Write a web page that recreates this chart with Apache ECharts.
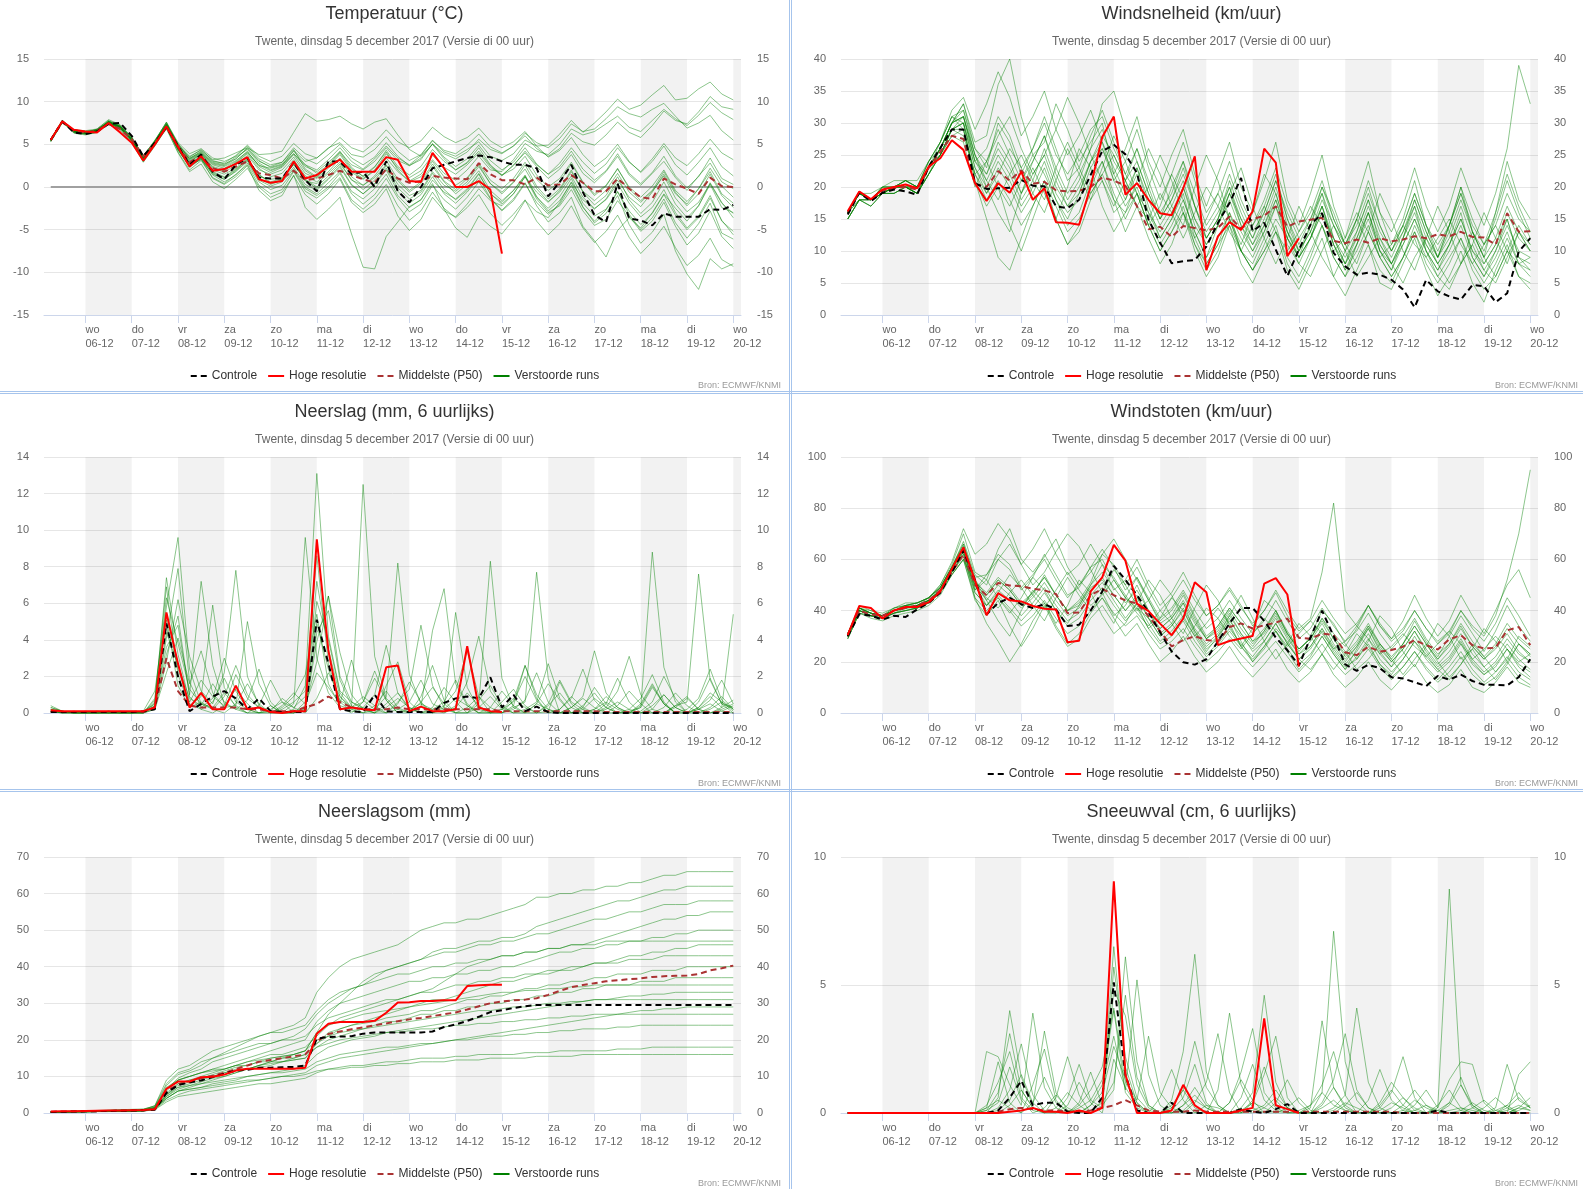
<!DOCTYPE html>
<html><head><meta charset="utf-8">
<script src="https://cdn.jsdelivr.net/npm/echarts@6/dist/echarts.min.js"></script>
<style>
html,body{margin:0;padding:0;background:#fff;overflow:hidden;width:1583px;height:1189px;position:relative}
.c{position:absolute;width:789px;height:390px}
.sep{position:absolute;background:#a6c4ec}
</style></head><body>
<div id="c0" class="c" style="left:0;top:0"></div>
<div id="c1" class="c" style="left:797px;top:0"></div>
<div id="c2" class="c" style="left:0;top:398px"></div>
<div id="c3" class="c" style="left:797px;top:398px"></div>
<div id="c4" class="c" style="left:0;top:798px"></div>
<div id="c5" class="c" style="left:797px;top:798px"></div>
<div class="sep" style="left:789px;top:0;width:1px;height:1189px"></div>
<div class="sep" style="left:791px;top:0;width:1px;height:1189px"></div>
<div class="sep" style="left:0;top:391px;width:1583px;height:1px"></div>
<div class="sep" style="left:0;top:393px;width:1583px;height:1px"></div>
<div class="sep" style="left:0;top:789px;width:1583px;height:1px"></div>
<div class="sep" style="left:0;top:791px;width:1583px;height:1px"></div>
<script>
// ---------- time axis data (hours after 5 Dec 2017 00:00) ----------
const stepHours = [6,12,18,24,30,36,42,48,54,60,66,72,78,84,90,96,102,108,114,120,126,132,138,144,150,156,162,168,174,180,186,192,198,204,210,216,222,228,234,240,246,252,258,264,270,276,282,288,294,300,306,312,318,324,330,336,342,348,354,360];
const tickHours = [24,48,72,96,120,144,168,192,216,240,264,288,312,336,360];
const tickLabels = ['wo\n06-12','do\n07-12','vr\n08-12','za\n09-12','zo\n10-12','ma\n11-12','di\n12-12','wo\n13-12','do\n14-12','vr\n15-12','za\n16-12','zo\n17-12','ma\n18-12','di\n19-12','wo\n20-12'];
const shadedDays = [[24,48],[72,96],[120,144],[168,192],[216,240],[264,288],[312,336],[360,384]];
const X_MIN = 2.5, X_MAX = 364;
const subtitleText = 'Twente, dinsdag 5 december 2017 (Versie di 00 uur)';
const sourceText = 'Bron: ECMWF/KNMI';
const legendNames = ['Controle','Hoge resolutie','Middelste (P50)','Verstoorde runs'];

// ---------- Temperatuur ----------
const tempControl = [5.5,7.7,6.4,6.2,6.5,7.4,7.5,6.0,3.6,5.2,7.0,4.8,
 2.6,3.8,1.8,0.9,2.6,3.4,1.1,1.0,1.0,2.9,0.8,-0.5,
 3.0,3.0,1.5,1.8,0.0,3.0,-0.5,-1.8,0.0,2.2,2.6,3.0,
 3.4,3.7,3.5,3.0,2.6,2.6,2.2,-1.1,0.6,2.6,-0.6,-3.3,
 -4.1,0.4,-3.7,-3.9,-4.5,-3.1,-3.5,-3.5,-3.5,-2.6,-2.7,-2.1];
const tempHires = [5.5,7.7,6.7,6.5,6.4,7.5,6.4,5.2,3.1,5.0,7.1,4.7,
 2.4,3.6,1.9,2.1,2.7,3.5,0.9,0.5,0.7,3.0,1.0,1.4,
 2.4,3.2,1.8,1.8,1.8,3.5,3.2,0.7,0.6,4.0,2.2,0.0,
 0.0,0.7,-0.3,-7.8];
const tempMedian = [5.5,7.6,6.6,6.4,6.6,7.4,6.8,5.6,3.6,5.1,7.0,4.8,
 2.9,3.6,2.2,1.8,2.4,3.0,1.6,1.4,1.0,1.9,0.8,1.0,
 1.4,1.9,1.4,0.9,0.5,2.1,1.0,0.5,0.7,1.3,1.1,1.0,
 0.9,2.8,1.5,0.8,0.8,0.3,1.1,0.2,0.3,1.4,0.5,-0.5,
 -0.5,1.0,-0.2,-1.2,-1.4,1.0,0.3,-0.2,-0.8,1.1,0.1,0.0];
const tempRuns = [
 [5.3,7.6,6.6,6.3,6.8,7.8,7.2,5.4,3.0,5.4,7.6,4.9, 3.4,4.1,2.9,2.6,3.5,4.4,2.8,2.0,2.5,4.3,3.0,3.4, 4.6,5.2,3.8,3.5,4.4,5.9,4.2,3.1,3.8,5.5,4.1,3.6, 4.4,5.3,3.6,3.1,3.9,5.5,4.8,4.9,6.2,7.8,6.4,7.5, 8.8,10.3,9.1,9.6,10.8,11.9,10.2,10.4,11.5,12.3,10.9,10.2],
 [5.6,7.8,6.3,6.1,6.4,7.3,6.7,5.2,2.9,4.8,6.9,4.1, 2.0,3.1,1.1,0.4,1.5,2.6,0.2,-0.8,-0.3,1.8,-0.5,-1.3, -0.2,1.1,-1.5,-2.6,-1.4,0.3,-2.2,-3.9,-2.8,-0.6,-2.5,-3.6, -2.4,-0.9,-3.1,-4.5,-3.2,-1.5,-4.0,-5.6,-4.3,-2.2,-4.8,-6.5, -5.2,-3.3,-5.9,-7.8,-6.4,-4.6,-7.1,-9.2,-8.0,-6.0,-8.5,-9.3],
 [5.4,7.7,6.5,6.4,6.5,7.5,7.1,5.7,3.4,5.1,7.0,4.4, 2.3,3.3,1.0,0.3,1.2,2.5,-0.4,-1.6,-1.0,1.4,-2.4,-3.8, -2.6,-1.2,-5.5,-9.4,-9.6,-5.8,-4.1,-2.3,-1.5,0.8,-0.6,-1.4, -0.2,1.6,-0.8,-1.8,-0.4,1.3,-1.2,-2.5,-1.1,1.0,-1.9,-3.4, -2.6,-0.5,-3.2,-5.0,-3.6,-1.4,-4.2,-6.0,-4.3,-1.9,-5.4,-6.1],
 [5.5,7.6,6.7,6.5,6.7,7.6,6.9,5.5,3.5,5.3,7.4,5.0, 3.6,4.3,3.2,3.4,4.0,4.6,3.8,3.9,4.2,6.4,8.6,7.7, 7.9,8.3,7.4,6.8,7.6,8.0,6.1,4.4,3.6,5.0,3.3,2.0, 2.8,4.2,2.5,1.3,2.6,4.0,2.4,1.0,2.1,3.8,1.6,0.5, 1.8,3.6,1.4,0.2,1.6,3.0,1.1,-0.4,1.3,2.8,0.6,-0.2],
 [5.5,7.7,6.4,6.3,6.6,7.6,7.1,5.6,3.2,5.0,7.2,4.6, 2.8,3.6,2.0,1.5,2.2,3.4,1.2,0.9,1.1,2.8,0.7,0.4, 1.6,2.9,0.8,0.2,1.1,2.6,0.3,-1.0,-0.4,1.8,0.2,-0.5, 0.6,2.4,0.4,-0.8,0.5,2.6,0.1,-1.4,-0.2,2.0,-0.6,-2.1, -1.0,1.2,-1.5,-3.1,-1.8,0.6,-2.0,-3.6,-2.2,0.3,-2.4,-3.0],
 [5.6,7.7,6.6,6.4,6.7,7.7,7.2,5.9,3.6,5.5,7.5,5.1, 3.2,4.0,2.7,2.4,3.1,4.1,2.5,2.2,2.6,3.9,2.4,1.8, 2.9,4.1,2.6,2.0,3.0,4.6,3.1,2.5,3.4,5.0,3.9,3.3, 4.1,5.6,4.4,3.9,4.8,6.3,5.2,4.6,5.7,7.4,6.5,6.8, 8.0,9.4,8.6,8.2,9.1,9.8,8.3,6.9,7.5,8.4,6.6,5.5],
 [5.4,7.6,6.5,6.2,6.5,7.4,6.9,5.4,3.1,4.9,7.0,4.3, 2.5,3.2,1.6,0.9,1.8,3.0,0.8,0.1,0.6,2.1,0.0,-0.8, 0.5,1.8,-0.5,-1.4,-0.2,1.5,-1.0,-2.4,-1.5,0.4,-2.6,-4.8, -5.9,-3.4,-4.6,-5.5,-3.8,-1.6,-2.9,-3.6,-1.8,0.6,-1.5,-2.6, -1.4,0.8,-1.2,-2.3,-0.6,1.5,-0.8,-2.0,-0.2,2.2,0.1,-1.2],
 [5.6,7.8,6.7,6.6,6.8,7.9,7.3,5.8,3.7,5.4,7.6,5.2, 3.9,4.5,3.4,3.0,3.6,4.8,3.3,2.6,2.9,4.4,2.1,1.2, 2.4,3.8,1.9,1.0,2.0,3.9,2.2,1.1,1.9,3.7,2.3,1.5, 2.6,4.0,2.3,1.4,2.5,4.2,2.6,1.5,2.8,4.6,2.9,1.6, 2.7,4.6,2.9,1.8,3.3,5.1,3.4,2.5,3.9,5.6,4.0,3.2],
 [5.5,7.7,6.4,6.2,6.4,7.5,7.0,5.5,3.3,5.1,7.1,4.5, 2.7,3.5,1.8,1.2,2.1,3.2,1.4,0.6,1.0,2.6,0.9,0.0, 1.3,2.7,0.9,-0.3,0.8,2.5,0.7,-0.6,0.4,2.4,0.6,-0.8, 0.3,1.9,-0.4,-1.6,-0.4,1.4,-1.1,-2.8,-1.6,0.5,-2.3,-4.2, -3.1,-1.0,-4.4,-6.6,-5.3,-3.2,-7.5,-10.2,-12.0,-8.4,-9.6,-9.0],
 [5.3,7.5,6.5,6.3,6.5,7.6,7.0,5.6,3.4,5.2,7.3,4.8, 3.0,3.8,2.3,1.7,2.6,3.7,2.0,1.5,2.0,3.5,1.6,1.0, 2.2,3.4,1.7,0.9,1.9,3.4,1.8,0.7,1.5,3.2,1.6,0.8, 2.0,3.6,2.0,1.8,3.2,5.1,4.2,3.8,5.0,6.8,6.1,6.5, 7.4,8.3,7.0,6.5,7.8,9.1,8.0,7.2,8.4,9.9,8.7,7.9],
 [5.6,7.8,6.5,6.4,6.6,7.5,6.8,5.3,3.0,4.9,6.8,4.0, 1.8,2.7,0.6,-0.2,0.9,2.2,0.0,-1.2,-0.6,1.3,-0.9,-2.0, -0.8,0.9,-1.8,-3.0,-2.0,-0.2,-3.4,-5.1,-3.8,-1.2,-2.8,-3.5, -2.0,-0.2,-1.6,-2.2,-0.8,1.2,-0.6,-1.8,-0.4,1.8,-0.5,-1.6, -0.4,1.6,-0.6,-1.8,-0.5,1.3,-1.3,-2.9,-1.8,0.4,-1.9,-3.1],
 [5.4,7.6,6.6,6.5,6.6,7.7,7.1,5.7,3.5,5.3,7.2,4.7, 3.1,3.9,2.4,2.0,2.8,3.9,2.2,1.2,1.6,3.2,1.3,0.6, 1.8,3.3,1.2,0.2,1.3,3.1,0.9,-0.4,0.6,2.7,0.7,-0.3, 1.0,2.6,0.4,-0.6,0.6,2.1,-0.2,-1.7,-0.6,1.3,-1.2,-2.5, -1.5,0.4,-1.9,-3.5,-2.4,-0.3,-3.0,-4.8,-3.4,-1.0,-4.0,-5.2],
 [5.5,7.7,6.5,6.3,6.6,7.6,7.0,5.6,3.3,5.2,7.3,4.6, 3.3,4.2,3.0,2.8,3.7,4.9,3.6,3.0,3.6,5.1,3.9,3.4, 4.5,5.8,4.6,4.1,5.2,6.7,5.3,4.6,5.4,7.0,5.9,5.2, 5.8,6.9,5.4,4.6,5.3,6.5,4.8,3.5,4.3,5.8,3.8,2.4, 3.4,5.0,3.0,1.7,3.0,4.8,2.6,1.4,2.9,4.6,2.4,1.3],
 [5.6,7.7,6.6,6.4,6.7,7.6,7.0,5.5,3.2,5.0,7.1,4.4, 2.4,3.4,1.5,0.9,1.9,3.1,1.0,0.3,0.8,2.3,0.3,-0.4, 0.9,2.3,0.2,-0.8,0.3,2.0,-0.5,-1.9,-0.9,1.2,-0.8,-1.9, -0.6,1.1,-1.3,-2.7,-1.4,0.5,-2.2,-4.1,-3.0,-1.2,-4.6,-6.3, -8.2,-5.1,-3.6,-4.8,-3.0,-0.8,-2.5,-4.0,-2.2,0.5,-1.8,-3.6],
 [5.4,7.7,6.6,6.3,6.6,7.7,7.1,5.7,3.4,5.2,7.2,4.7, 2.9,3.9,2.6,2.2,3.0,4.2,2.4,1.7,2.3,3.8,1.9,1.1, 2.5,4.0,2.1,1.3,2.4,4.1,2.0,0.6,1.2,3.0,1.2,0.2, 1.1,2.8,0.8,-0.2,1.0,2.9,0.9,-0.4,0.6,2.7,0.5,-0.8, 0.2,2.1,0.0,-1.2,0.1,2.0,-0.4,-1.7,-0.2,1.8,-0.8,-1.9],
 [5.5,7.6,6.5,6.4,6.5,7.5,6.9,5.5,3.3,5.0,7.0,4.5, 2.6,3.4,1.7,1.1,2.0,3.3,1.5,0.4,0.9,2.7,0.8,-0.2, 1.0,2.5,0.3,-0.8,0.4,2.2,-0.1,-1.4,-0.6,1.6,-0.3,-1.5, -0.4,1.5,-0.8,-2.0,-0.8,1.2,-1.4,-3.0,-2.2,-0.3,-2.8,-4.5, -3.8,-1.6,-3.4,-5.2,-4.0,-1.8,-4.6,-6.8,-5.4,-2.8,-5.8,-7.2],
 [5.6,7.7,6.5,6.3,6.7,7.6,7.0,5.6,3.5,5.3,7.4,4.9, 3.3,4.0,2.8,2.5,3.3,4.5,3.0,2.4,2.9,4.6,3.3,2.7, 3.8,5.0,3.4,2.6,3.5,5.2,3.6,2.5,3.2,5.1,3.5,2.4, 3.3,4.9,3.1,2.0,2.9,4.6,2.7,1.5,2.4,4.2,2.1,0.8, 1.9,3.9,1.6,0.4,1.7,3.6,1.3,-0.1,1.2,3.4,1.0,0.3],
 [5.5,7.8,6.6,6.4,6.6,7.6,7.1,5.6,3.2,5.1,7.1,4.6, 2.7,3.6,2.2,1.9,2.9,4.0,2.6,1.9,2.4,3.9,2.6,2.0, 3.2,4.6,3.0,2.1,3.3,4.8,3.4,2.6,3.7,5.4,4.3,3.9, 4.9,6.2,4.7,4.0,4.8,6.0,4.5,3.6,4.5,6.3,5.3,4.9, 6.1,7.6,6.4,5.8,7.2,8.9,7.8,7.4,8.8,10.6,9.4,9.1],
 [5.4,7.6,6.4,6.2,6.4,7.4,6.9,5.5,3.2,5.0,7.0,4.4, 2.5,3.3,1.4,0.6,1.4,2.8,0.6,-0.3,0.2,1.9,-0.2,-1.0, 0.0,1.6,-0.8,-2.0,-0.9,1.0,-1.3,-2.9,-2.0,0.2,-1.5,-2.6, -1.2,0.6,-1.4,-2.8,-1.6,0.4,-1.8,-3.2,-2.0,0.2,-2.4,-4.0, -2.7,-0.6,-2.8,-4.4,-3.1,-0.9,-3.3,-5.0,-3.6,-1.3,-3.9,-5.6],
 [5.5,7.7,6.7,6.5,6.7,7.7,7.1,5.8,3.6,5.4,7.4,5.0, 3.5,4.4,3.1,2.7,3.3,4.6,3.1,2.3,2.7,4.2,2.6,1.6, 2.6,4.2,2.3,1.2,2.3,4.3,2.4,1.4,2.4,4.4,3.0,2.0, 2.9,4.6,2.6,1.4,2.1,3.6,1.4,0.0,1.0,2.9,0.6,-1.0, 0.1,2.2,-0.2,-1.6,-0.4,1.8,-0.6,-2.2,-0.8,1.5,-1.0,-2.4]
];

// ---------- Windsnelheid ----------
const windControl = [15.7,19.1,17.8,19.1,19.6,19.3,18.8,23.2,26.1,29.0,29.0,20.6,
 19.7,19.8,19.9,21.1,20.2,20.1,17.0,16.7,18.0,21.9,25.6,26.6,
 25.1,22.2,14.9,11.3,8.1,8.4,8.6,10.7,14.4,17.5,21.4,13.1,
 14.4,10.2,6.1,10.2,14.1,15.9,9.7,7.6,6.3,6.6,6.3,5.5,
 4.0,1.2,5.5,3.7,2.9,2.4,4.7,4.5,2.0,3.4,9.9,12.0];
const windHires = [16.2,19.3,18.1,19.6,20.0,20.4,19.8,23.2,24.5,27.3,25.8,20.6,
 17.8,20.6,19.1,22.4,18.0,19.8,14.5,14.4,14.1,20.1,27.8,31.0,
 18.8,20.6,18.0,15.9,15.6,19.8,24.8,7.0,12.3,14.5,13.3,16.2,
 26.0,23.8,9.2,12.0];
const windMedian = [16.0,19.2,18.0,19.4,19.8,20.0,19.6,23.0,25.5,28.0,27.5,20.5,
 20.0,22.5,21.0,22.6,20.5,20.8,19.5,19.3,19.4,20.0,21.5,21.0,
 20.2,17.0,13.4,13.8,12.2,13.9,13.6,13.2,13.6,15.4,13.5,15.0,
 15.5,17.0,13.8,14.6,14.9,15.2,11.6,11.2,11.8,11.3,12.0,11.5,
 11.8,12.3,12.0,12.6,12.3,13.0,12.2,12.1,11.0,15.9,13.0,13.1];
const windRuns = [
 [16,19,18,19,20,20,20,23,26,30,33,27, 28,36,40,31,25,27,33,29,24,27,30,22, 26,31,24,20,25,29,22,17,22,27,20,16, 21,27,18,14,19,25,17,12,18,24,16,11, 15,21,14,9,14,20,13,9,16,24,18,15],
 [16,18,18,20,21,21,20,24,27,31,30,21, 15,9,7,12,17,21,15,11,14,20,24,18, 13,17,12,8,11,16,10,6,9,14,8,5, 9,13,7,4,8,12,6,3,7,11,5,4, 8,12,7,3,6,10,5,2,7,11,6,5],
 [15,18,17,19,19,20,19,22,25,29,31,25, 22,27,24,19,24,28,22,18,21,26,33,35, 29,24,19,15,20,24,17,12,15,21,16,12, 17,22,15,10,14,19,12,8,13,18,11,8, 12,17,10,7,11,16,9,6,10,15,9,7],
 [16,19,19,20,20,21,20,23,25,28,27,20, 24,28,31,26,22,25,29,34,30,25,21,16, 18,23,17,12,15,19,12,8,11,16,10,7, 10,14,8,5,9,14,9,6,11,16,10,7, 12,18,13,9,14,20,15,11,16,22,17,13],
 [16,19,18,19,20,20,19,23,26,29,28,22, 19,23,20,16,19,23,18,14,16,21,24,19, 15,19,14,10,13,17,11,7,10,15,10,8, 12,17,11,8,12,17,11,7,11,16,10,7, 11,15,10,7,10,14,9,6,9,13,8,6],
 [15,18,18,19,20,20,20,24,27,32,34,29, 33,38,34,28,31,35,29,25,28,32,27,21, 24,29,23,18,22,27,21,16,19,24,18,14, 18,23,17,13,16,21,15,11,15,20,14,10, 14,19,14,10,14,19,13,10,15,21,16,12],
 [16,19,18,19,19,20,19,22,25,29,29,21, 17,20,14,10,15,20,15,11,13,18,21,17, 21,26,20,15,18,23,17,12,15,20,14,10, 13,18,12,9,12,17,11,7,10,14,9,6, 9,13,8,5,8,12,7,4,6,10,6,4],
 [16,18,18,20,20,21,21,24,26,30,31,24, 21,25,22,18,21,26,21,17,19,24,26,22, 18,22,16,12,15,20,14,11,14,19,14,11, 15,20,14,10,13,18,14,11,15,21,16,13, 17,23,17,13,17,23,18,14,19,26,39,33],
 [15,18,17,19,20,20,19,22,26,30,32,25, 20,16,13,19,23,19,15,20,26,23,17,13, 16,21,26,22,17,14,20,25,21,15,11,16, 22,19,13,9,14,20,16,11,8,13,19,15, 10,7,12,17,13,8,11,16,12,8,13,10],
 [16,19,18,19,20,20,20,23,25,29,30,23, 19,22,26,23,19,16,21,26,22,18,23,28, 24,19,14,17,22,18,13,9,14,19,23,17, 12,8,12,17,13,9,6,10,15,11,7,5, 9,14,10,6,4,8,13,9,6,10,14,11],
 [16,19,18,20,20,21,20,23,27,31,29,22, 24,20,17,21,25,22,18,15,19,24,28,25, 21,17,20,25,21,16,12,15,19,15,10,7, 11,15,12,8,6,10,14,10,6,9,12,8, 5,9,12,8,5,8,11,7,5,9,13,10],
 [16,19,18,19,20,20,19,23,26,30,33,26, 23,30,27,22,26,31,26,21,23,28,32,27, 22,26,21,16,19,24,19,14,17,22,17,13, 16,21,16,12,15,20,15,11,14,19,14,10, 13,18,13,9,12,17,12,8,11,15,9,8],
 [16,19,18,19,20,21,20,23,26,30,31,24, 22,26,23,19,22,25,20,17,20,24,27,23, 19,23,18,14,17,21,15,11,14,18,13,10, 14,18,13,10,13,17,12,9,12,16,11,8, 12,16,11,8,11,15,10,8,11,16,12,10],
 [15,18,18,19,20,20,19,23,25,29,30,23, 20,24,21,17,20,24,19,16,18,23,26,21, 17,20,15,11,14,18,13,9,12,16,12,9, 13,17,12,9,12,16,11,8,11,15,10,8, 11,15,11,8,11,15,10,7,10,14,10,9],
 [16,19,18,20,20,21,20,24,27,31,32,26, 24,29,25,21,24,28,23,19,22,26,29,24, 21,24,19,15,18,22,17,13,16,20,15,12, 16,21,15,11,15,19,14,10,13,18,13,10, 14,19,14,11,14,19,14,11,14,19,15,13],
 [16,19,18,19,20,20,20,23,26,30,31,25, 21,18,22,25,21,18,23,27,23,19,22,25, 21,17,15,19,16,12,16,20,17,13,10,14, 17,13,10,13,17,14,10,12,16,13,9,11, 14,11,9,12,15,11,8,11,14,10,8,9],
 [16,19,18,19,19,20,19,22,25,29,30,24, 26,31,28,23,26,30,25,22,25,29,31,26, 22,19,16,13,16,20,15,12,15,19,15,11, 14,19,13,9,12,16,12,8,12,17,12,9, 13,17,12,9,13,18,13,9,12,17,13,11],
 [15,18,17,19,19,20,19,22,25,28,29,22, 18,21,18,14,17,21,17,13,15,19,22,18, 16,19,14,10,13,16,11,8,11,14,10,7, 10,13,9,6,10,14,9,6,9,13,9,6, 9,13,9,6,9,12,8,5,8,12,8,7]
];

// ---------- Neerslag (6-uurlijks) ----------
const rainControl = [0.05,0.05,0.05,0.05,0.05,0.05,0.05,0.05,0.1,0.2,4.9,2.0,
 0.1,0.5,0.9,1.2,0.8,0.2,0.8,0.1,0.05,0.05,0.05,5.1,
 2.7,0.2,0.1,0.05,1.0,0.1,0.05,0.05,0.05,0.05,0.55,0.8,
 0.9,0.8,1.95,0.3,1.0,0.1,0.35,0.05,0,0,0,0,
 0,0,0,0,0,0,0,0,0,0,0,0];
const rainHires = [0.15,0.1,0.1,0.1,0.1,0.1,0.1,0.1,0.1,0.3,5.5,2.7,
 0.3,1.1,0.2,0.2,1.5,0.2,0.3,0.05,0,0.1,0.1,9.5,
 3.4,0.2,0.3,0.2,0.15,2.5,2.6,0.1,0.35,0.1,0.1,0.2,
 3.65,0.3,0.1,0.05];
const rainMedian = [0.05,0.05,0.05,0.05,0.05,0.05,0.05,0.05,0.05,0.3,3.0,1.2,
 0.4,0.3,0.3,0.3,0.3,0.2,0.2,0.1,0.1,0.1,0.3,0.5,
 0.9,0.6,0.3,0.2,0.2,0.2,0.3,0.2,0.2,0.2,0.2,0.2,
 0.2,0.2,0.2,0.1,0.1,0.1,0.1,0.1,0.1,0.1,0.1,0.1,
 0.05,0.05,0.05,0.05,0.05,0.05,0.05,0.05,0.05,0.05,0.05,0.05];
const rainRuns = [
 [0.3,0.1,0,0,0,0.1,0,0,0,0.5,7.4,3.2, 0.6,1.8,0.9,0.4,2.1,0.8,0.3,0,0,0.2,1.5,13.1, 4.2,1.2,0.6,0.2,0,0.5,1.1,0.3,0,0,0.2,0.8, 0.4,0,0,0.6,1.3,0.4,0,0,0.2,0.9,0.3,0, 0,0.4,1.2,0.5,0,0,0.3,0.8,0.2,0,0.1,0.4],
 [0.1,0,0,0.1,0,0,0,0,0.1,1.2,5.8,9.6, 2.4,0.5,0.3,1.1,0.4,0,0,0.2,0.6,0.3,0,0.8, 2.2,0.9,0.3,12.5,3.1,0.8,0.2,0,0.6,1.4,0.5,0, 0,0.3,0.9,0.2,0,0,0.5,1.6,0.7,0,0,0.2, 0.9,0.3,0,0,0.4,1.0,0.3,0,0,0.2,0.6,0.1],
 [0.2,0.1,0,0,0,0,0.1,0,0,0.4,3.6,4.8, 1.0,7.2,2.6,0.5,0.2,0,0.4,1.8,0.6,0,0.3,4.4, 5.6,1.8,0.4,0,0.2,0.9,8.2,2.1,0.5,0,0,0.3, 1.1,0.4,0,0,0.2,0.7,2.2,0.6,0,0,0.3,1.4, 0.5,0,0,0.1,0.6,2.0,0.8,0,0,0.3,0.9,0.2],
 [0.1,0,0,0,0.1,0,0,0,0,0.2,2.8,6.2, 3.1,1.2,0.5,2.2,7.8,2.0,0.4,0,0,0.5,9.6,3.0, 1.1,0.3,0,0.6,1.9,0.7,0,0,0.3,4.5,6.8,1.6, 0.4,0,0,0.2,0.8,0.3,0,0.1,1.7,0.5,0,0, 0.2,0.6,0.2,0,0,0.3,1.1,0.4,0,0,0.2,0.5],
 [0.4,0.1,0,0,0,0,0,0.1,0,0.8,6.9,2.1, 0.4,0.9,5.9,1.4,0.3,0,0,0.4,0,0,0.6,7.2, 3.5,0.9,0.2,0,0.4,1.2,0.3,0,0.9,2.6,0.7,0, 0,0.5,8.3,1.9,0.3,0,0,0.4,1.1,0.3,0,0, 0.5,1.9,0.6,0,0,0,0.4,0.9,0.2,0,0.3,0.7],
 [0.1,0,0.1,0,0,0,0,0,0.1,0.3,4.1,7.9, 1.7,0.3,0.8,3.0,1.2,0.2,0,0,0.3,0.9,2.1,5.4, 1.6,0.4,0.2,0.3,0,1.5,2.8,0.6,0,0,0.4,1.2, 3.4,0.9,0,0,0.4,2.6,0.8,0,0.2,0.8,2.4,0.7, 0,0,0.1,0.3,8.8,2.5,0.6,0,0.2,0.7,1.8,0.5],
 [0.2,0,0,0,0,0,0,0,0,0.6,5.1,1.5, 0.3,0.6,0.2,0,0.5,1.6,0.5,0,0,0,0.4,2.8, 6.4,3.3,1.0,0.2,0,0,0.5,1.7,0.6,0,0.3,5.5, 1.4,0.2,0,0,0.3,0.6,7.7,1.9,0,0,0.2,0.8, 0.3,0,0,0.4,1.5,0.5,0,0,0.3,0.9,0.3,5.4],
 [0.1,0.1,0,0,0,0.1,0,0,0,0.4,4.4,2.6, 0.8,0.4,1.6,0.6,0.2,0.7,2.4,0.6,0,0,0.2,3.9, 6.4,2.0,0.6,0.3,1.0,3.7,1.1,0.2,0,0.2,0.6,1.8, 0.5,0,0.3,1.2,0.4,0,0,0.5,1.8,0.6,0.2,0, 0.3,1.2,3.1,1.0,0.2,0,0.4,0.6,7.6,1.8,0.5,0.3],
 [0.1,0,0,0,0,0,0,0,0,0.3,3.2,5.3, 0.9,0.2,0,0.4,1.3,0.5,0,0,0.2,0.6,1.2,8.6, 2.7,0.6,0.1,0,0,0.3,0.8,0.3,0,0.3,1.4,0.6, 0,0,0,0.2,0.6,2.0,0.7,0,0,0.3,0.9,3.4, 1.1,0.3,0,0,0.2,1.0,0.3,0,0.6,1.9,0.5,0],
 [0.2,0.1,0,0,0,0,0,0,0,0.7,6.3,3.8, 1.3,0.5,0.2,0.9,2.6,1.0,0.3,0,0.4,1.1,0.5,2.2, 1.4,0.5,2.9,0.7,0.2,0,0.6,1.3,4.8,1.5,0.3,0, 0,0.7,1.5,0.4,0,0,0.5,0.2,0,0.3,0.8,0.3, 0,0,0.2,0.8,2.1,0.6,0,0,0.2,0.5,0.1,0],
 [0.1,0,0,0,0,0,0,0,0,0.2,2.2,4.1, 1.6,3.4,1.1,0.3,0.4,5.0,1.6,0.4,0,0,0.2,6.1, 4.0,1.1,0.3,0.6,2.3,0.7,0,0.2,0.5,0.2,0,0.4, 1.7,4.2,1.2,0.3,0,0.2,0.6,2.7,0.8,0,0,0.2, 0.6,0.2,0,0.3,1.4,0.5,0,0.2,0.8,2.4,0.7,0.2],
 [0.3,0.1,0,0,0,0,0,0,0.1,0.5,5.4,2.4, 0.5,0.2,0.6,1.9,0.6,0.2,0,0.1,0.8,0.3,0.9,4.9, 2.4,0.7,0.3,0.9,0.4,0,0.2,0.6,1.8,0.5,0.2,0, 0.3,0.9,0.3,0,0.7,2.6,1.0,0.2,0,0,0.4,1.1, 0.3,0,0,0.5,1.6,0.5,0,0,0.3,1.1,0.6,0.2]
];

// ---------- Windstoten ----------
const gustControl = [30.0,38.6,38.0,36.5,38.0,37.5,40.5,43.0,47.0,55.0,63.5,52.0,
 38.5,43.0,45.0,42.5,41.0,42.5,40.5,34.0,34.5,40.0,47.5,57.5,
 52.0,46.0,39.5,31.5,24.0,19.8,18.9,21.0,28.0,35.0,41.0,41.0,
 36.0,29.5,24.5,18.5,29.5,40.0,30.0,19.0,16.5,18.8,17.5,14.0,
 13.5,12.0,10.5,14.5,13.0,15.0,12.5,11.0,11.0,10.8,14.0,21.0];
const gustHires = [30.4,41.8,41.0,36.9,40.1,41.4,41.4,43.3,47.5,56.3,64.7,51.7,
 38.2,46.8,44.0,43.6,41.8,40.7,40.4,27.6,28.2,47.5,53.0,65.7,
 59.5,42.7,39.8,34.9,30.4,36.9,51.1,47.2,26.5,28.1,29.1,30.1,
 50.5,52.7,46.3,18.1];
const gustMedian = [30.5,40,38.5,38,40,41,42,44,48,55,62,50,
 46,50.8,49.8,49.5,48.5,47.9,46.5,39,39.3,46,48.5,46,
 44,42.7,38,32,26,28.5,30,28.5,28,33.6,35,33,
 34.3,35.3,36.9,29.4,29,31,30.5,23.7,22.6,25.9,24,24.6,
 25.9,28.5,26.5,24.8,28.8,30.4,26.5,25.2,25.5,32.3,33.6,26.5];
const gustRuns = [
 [31,41,39,38,40,42,43,45,50,58,70,55, 52,64,72,60,55,61,68,57,50,55,62,58, 50,57,48,40,45,52,44,38,42,48,41,35, 40,47,38,32,36,44,37,31,35,42,34,29, 33,40,33,28,32,40,34,30,38,52,70,95],
 [30,40,38,37,39,40,41,43,47,55,62,45, 35,28,20,27,36,43,34,27,31,39,45,37, 30,35,27,20,24,30,22,16,20,26,19,14, 19,25,17,12,16,23,15,10,14,20,13,9, 14,19,12,8,11,17,10,8,12,18,12,10],
 [29,39,37,36,38,39,40,42,46,54,60,50, 46,52,48,42,47,53,46,40,44,51,62,68, 60,52,44,36,40,47,38,30,34,41,35,28, 33,40,32,25,29,37,29,22,27,34,26,20, 25,32,24,18,22,29,21,16,20,27,21,17],
 [31,42,40,38,41,42,42,44,48,56,64,48, 54,60,66,58,50,55,63,70,65,56,47,38, 42,50,40,31,35,43,32,25,29,37,28,20, 25,32,24,17,22,30,23,17,25,33,24,18, 27,36,28,22,30,38,31,24,32,42,34,28],
 [30,40,39,38,40,41,42,44,48,55,63,50, 42,48,44,38,43,49,42,36,39,46,51,44, 37,43,35,28,32,38,30,23,27,33,27,22, 28,35,27,21,26,33,25,19,24,31,23,18, 23,30,22,17,21,28,20,15,19,25,18,14],
 [30,40,38,38,40,41,42,45,50,59,72,62, 66,74,68,58,64,72,62,54,58,66,58,48, 52,60,50,42,47,55,46,38,42,49,42,34, 40,48,40,33,37,55,82,40,34,42,34,28, 32,40,33,27,31,40,33,28,35,45,38,30],
 [30,41,38,37,39,40,41,43,47,54,60,44, 38,44,34,26,33,42,33,26,29,37,42,35, 45,53,44,35,38,46,37,29,32,39,31,24, 28,35,27,21,25,32,24,18,21,27,19,14, 18,24,17,12,16,22,15,11,14,20,14,11],
 [31,41,40,39,41,43,43,45,49,57,66,52, 46,52,48,42,46,54,46,40,42,49,52,46, 40,46,37,30,34,41,33,27,31,38,31,26, 32,40,31,25,29,37,31,26,33,42,35,29, 36,46,37,30,36,46,38,31,40,50,56,45],
 [29,39,38,37,39,40,41,43,48,56,65,52, 44,36,30,40,48,43,35,42,52,47,38,31, 35,43,52,46,37,31,41,50,44,34,26,33, 44,40,31,24,30,40,35,27,21,28,38,33, 24,18,26,35,30,21,25,33,28,20,27,23],
 [30,40,38,38,40,41,41,44,48,55,61,47, 42,47,54,49,42,36,45,53,46,40,47,56, 50,42,33,37,45,40,31,24,30,38,46,37, 28,21,27,35,30,23,17,23,31,26,19,15, 21,28,23,17,13,19,27,22,16,21,30,26],
 [30,41,39,38,40,41,42,44,49,57,63,48, 52,45,39,45,53,48,40,35,42,50,58,53, 46,40,44,52,46,37,30,35,41,35,26,20, 26,33,28,21,17,23,30,24,17,21,27,21, 15,21,27,20,14,19,25,18,13,19,27,22],
 [31,41,39,38,40,42,43,45,49,57,67,54, 50,60,56,48,53,62,54,46,49,57,64,57, 48,53,45,37,41,48,40,33,37,44,37,31, 36,44,36,29,33,41,34,28,32,39,31,25, 30,37,29,23,27,34,26,21,25,31,24,20],
 [30,40,38,38,40,41,42,44,48,56,64,50, 44,50,46,41,45,51,44,38,41,48,53,46, 40,45,37,30,34,40,32,26,30,36,30,25, 30,37,29,23,28,35,27,21,26,33,25,20, 25,32,25,19,24,31,23,18,22,29,23,20],
 [31,41,39,38,40,42,43,45,49,57,65,51, 47,53,49,43,47,53,46,40,43,50,55,49, 43,48,40,33,37,44,36,29,33,40,33,27, 32,39,31,25,29,36,29,23,28,35,27,22, 27,34,27,21,26,33,26,21,26,33,27,23],
 [30,40,38,37,39,41,42,44,48,55,62,47, 42,46,41,36,41,47,40,34,37,44,49,42, 36,41,33,27,30,36,28,22,26,32,26,21, 26,32,25,19,23,30,23,17,22,29,21,16, 21,28,21,16,20,27,19,15,18,25,19,16],
 [30,41,39,38,40,41,42,44,48,56,63,49, 45,41,47,52,46,41,48,55,48,42,46,52, 45,39,34,40,35,28,34,41,37,30,25,31, 37,32,26,31,36,31,25,28,34,29,23,26, 31,26,22,27,32,27,21,25,30,25,20,23],
 [31,41,39,38,41,42,43,45,49,57,66,53, 54,62,58,49,54,60,52,45,50,57,60,52, 45,41,37,33,37,43,35,29,34,41,35,28, 31,38,30,23,26,33,26,20,26,34,27,21, 27,34,27,21,27,35,28,22,27,35,29,25],
 [29,39,38,37,39,40,41,43,47,54,60,45, 40,45,40,34,38,44,37,31,34,40,45,39, 34,38,31,25,28,33,26,20,24,29,23,18, 23,28,22,16,21,27,20,15,19,25,18,13, 18,24,18,13,18,24,17,12,16,22,16,13]
];

// ---------- Neerslagsom ----------
const sumControl = [0.3,0.35,0.4,0.45,0.5,0.55,0.6,0.65,0.75,0.9,5.5,7.6,
 8.4,8.9,9.8,10.7,11.6,11.8,12.4,12.4,12.5,12.6,13.0,20.3,
 20.8,20.9,21.0,21.7,22.0,22.0,22.0,22.0,22.0,22.3,23.5,24.2,
 25.2,26.3,27.6,28.1,28.7,29.2,29.5,29.5,29.5,29.5,29.5,29.5,
 29.5,29.5,29.5,29.5,29.5,29.5,29.5,29.5,29.5,29.5,29.5,29.5];
const sumHires = [0.4,0.45,0.5,0.55,0.6,0.65,0.7,0.75,0.8,1.0,6.6,8.6,
 8.6,9.8,9.9,10.5,11.6,12.1,12.1,12.1,12.1,12.1,12.4,21.7,
 24.4,24.9,24.9,24.9,25.2,27.4,30.2,30.3,30.6,30.6,30.8,30.8,
 34.7,34.9,35.1,35.1];
const sumMedian = [0.3,0.35,0.4,0.45,0.5,0.55,0.6,0.65,0.7,1.0,6.0,7.8,
 8.5,9.5,10.2,11.0,12.0,13.0,14.0,14.5,15.0,15.5,16.0,19.6,
 21.6,22.3,22.9,23.4,24.0,24.5,25.1,25.6,26.0,26.5,27.0,27.5,
 28.3,29.2,30.0,30.5,30.8,31.0,31.4,32.3,33.4,34.4,35.0,35.5,
 36.0,36.3,36.6,36.8,37.2,37.4,37.5,37.6,38.0,39.0,39.6,40.3];
const sumRuns = [
 [0.3,0.4,0.5,0.6,0.7,0.8,0.9,1.0,1.1,1.8,7.5,10.5, 11.5,13,15,16.5,18,19.5,21,22,23,24,26,33, 37,40,42,43,44,45,46,48,50,51,52,52, 53,53,54,55,56,57,59,59,60,60,61,61, 62,62,63,63,64,65,65,66,66,66,66,66],
 [0.2,0.3,0.4,0.4,0.5,0.6,0.6,0.7,0.8,1.3,4,6, 7,8,9,10,11,12,13,14,15,16,17,22, 27,30,33,36,38,39,40,41,42,44,45,45, 46,47,47,48,48,49,51,52,53,54,55,56, 57,58,58,59,60,61,61,62,62,62,62,62],
 [0.3,0.4,0.4,0.5,0.6,0.7,0.8,0.8,0.9,2,9,12, 13,15,17,18,19,20,21,22,22,23,24,28, 31,33,34,35,37,39,40,41,42,43,44,44, 45,46,46,47,47,48,49,49,50,51,52,53, 53,54,55,55,56,57,57,57,58,58,58,58],
 [0.2,0.2,0.3,0.3,0.4,0.4,0.5,0.5,0.6,1.2,5,8, 9,10,11,12,13,14,15,16,16,17,18,21, 24,26,27,28,29,30,31,32,33,34,36,38, 40,41,42,43,43,44,44,45,45,46,46,47, 48,49,50,51,52,53,53,54,54,55,55,55],
 [0.3,0.3,0.4,0.5,0.5,0.6,0.7,0.7,0.8,1.6,7,9, 10,11,12,13,14,15,16,17,18,19,20,25, 28,30,31,32,33,34,35,36,36,37,37,38, 38,39,39,40,40,41,42,43,44,44,45,45, 46,46,47,47,48,48,49,49,50,50,50,50],
 [0.2,0.3,0.3,0.4,0.4,0.5,0.5,0.6,0.6,1.1,4.5,7, 8,9,10,11,12,12,13,14,14,15,16,19, 21,23,24,25,26,27,28,29,30,31,31,32, 33,34,35,36,36,37,38,38,39,39,40,41, 41,42,43,43,44,44,45,45,46,46,46,46],
 [0.3,0.4,0.5,0.5,0.6,0.7,0.8,0.9,1.0,2,8,11, 12,14,15,16,17,18,19,19,20,20,21,24, 26,27,28,29,30,31,31,32,33,33,34,35, 35,36,36,37,37,38,38,39,39,40,40,41, 41,41,42,42,42,43,43,43,43,43,43,43],
 [0.2,0.2,0.3,0.3,0.4,0.5,0.5,0.6,0.6,1.3,5.5,8, 9,9.5,10,11,11.5,12,13,13.5,14,14.5,15,19, 22,23,24,24.5,25,26,26.5,27,28,28,29,30, 31,31,32,32,33,34,34,35,35,36,36,37, 37,38,38,38,39,39,39,40,40,40,40,40],
 [0.2,0.3,0.3,0.4,0.5,0.5,0.6,0.6,0.7,1.4,6,9, 10,11,12,12,13,13,14,14,15,15,16,18, 20,21,22,23,24,25,25,26,27,27,28,28, 29,29,30,30,31,31,32,32,33,33,34,34, 35,35,35,36,36,36,37,37,37,37,37,37],
 [0.3,0.3,0.4,0.4,0.5,0.5,0.6,0.6,0.7,1.2,4,6, 6.5,7,8,8.5,9,10,10.5,11,11.5,12,13,16, 18,19,20,20.5,21,22,22.5,23,23.5,24,24.5,25, 25.5,26,26.5,27,27.5,28,28.5,29,29.5,30,30.5,31, 31,31.5,32,32,32.5,32.5,33,33,33,33,33,33],
 [0.2,0.2,0.3,0.3,0.4,0.4,0.5,0.5,0.6,1,3.5,5, 6,6.5,7,7.5,8,8.5,9,9.5,10,10.5,11,13, 14,15,15.5,16,16.5,17,17.5,18,18.5,19,19.5,20, 20.5,21,21.5,22,22.5,23,23.5,24,24.5,25,25.5,26, 26.5,27,27.5,28,28,28.5,28.5,29,29,29,29,29],
 [0.3,0.3,0.4,0.4,0.5,0.5,0.6,0.6,0.7,1.3,5,7, 7.5,8,8.5,9,9.5,10,10.5,11,11,11.5,12,14, 15,16,16.5,17,17.5,18,18,18.5,19,19,19.5,20, 20,20.5,21,21,21.5,21.5,22,22,22.5,22.5,23,23, 23,23.5,23.5,24,24,24,24,24,24,24,24,24],
 [0.2,0.2,0.3,0.3,0.4,0.4,0.4,0.5,0.5,0.9,3,4.5, 5,5.5,6,6.5,7,7.5,8,8,8.5,9,9.5,11, 12,12.5,13,13,13.5,14,14,14.5,15,15,15,15.5, 15.5,16,16,16,16,16.5,16.5,16.5,17,17,17,17, 17,17.5,17.5,17.5,18,18,18,18,18,18,18,18],
 [0.2,0.3,0.3,0.4,0.4,0.5,0.5,0.5,0.6,1,4,6, 6.5,7,7.5,8,8.5,9,9,9.5,10,10,10.5,11.5, 12,12,12.5,12.5,13,13,13.5,13.5,14,14,14,14.5, 14.5,14.5,15,15,15,15,15.5,15.5,15.5,15.5,16,16, 16,16,16,16,16,16,16,16,16,16,16,16],
 [0.3,0.4,0.4,0.5,0.6,0.6,0.7,0.8,0.9,1.6,6.5,9.5, 11,12,14,15,16,17,18,19,20,21,23,27, 30,32,34,35,36,37,38,38,39,40,40,41, 41,42,42,43,43,44,44,45,45,46,46,46, 47,47,47,47,47,47,47,47,47,47,47,47],
 [0.2,0.3,0.3,0.4,0.5,0.5,0.6,0.6,0.7,1.2,5,7.5, 8.5,9.5,10.5,11.5,12.5,13,14,15,15.5,16,17,22, 24,25,26,27,27.5,28,28.5,29,29.5,30,30.5,31, 31.5,32,32.5,33,33,33.5,33.5,34,34,34.5,34.5,35, 35,35,35,35,35,35,35,35,35,35,35,35],
 [0.3,0.3,0.4,0.4,0.5,0.5,0.6,0.7,0.7,1.5,6.5,9, 10,11,11.5,12,13,14,14.5,15,15.5,16,17,20, 21,22,22.5,23,23.5,24,24.5,25,25.5,26,26.5,27, 27.5,28,28,28.5,29,29,29.5,30,30,30.5,30.5,31, 31,31,31,31,31,31,31,31,31,31,31,31],
 [0.2,0.2,0.3,0.3,0.4,0.4,0.5,0.5,0.6,1.1,4.5,6.5, 7.5,8.5,9.5,10,11,12,12.5,13,14,14.5,15,18, 19,20,20.5,21,21.5,22,22,22.5,23,23,23.5,24, 24,24.5,24.5,25,25,25.5,25.5,26,26,26.5,26.5,27, 27,27,27,27,27,27,27,27,27,27,27,27]
];

// ---------- Sneeuwval (6-uurlijks) ----------
const snowControl = [0,0,0,0,0,0,0,0,0,0,0,0,
 0,0.1,0.6,1.26,0.3,0.4,0.4,0.05,0,0,0.6,5.1,
 1.5,0.1,0,0,0.4,0,0,0,0,0,0.15,0.05,
 0,0.15,0.35,0,0,0,0,0,0,0,0,0,
 0,0,0,0.1,0,0,0,0,0,0,0,0];
const snowHires = [0,0,0,0,0,0,0,0,0,0,0,0,
 0,0,0.05,0.1,0.2,0.05,0.05,0,0.1,0,0.2,9.05,
 1.5,0,0,0,0.1,1.1,0.3,0,0,0,0.1,0.2,
 3.7,0.3,0.15,0];
const snowMedian = [0,0,0,0,0,0,0,0,0,0,0,0,
 0,0.05,0.15,0.2,0.15,0.1,0.1,0.05,0.05,0.1,0.2,0.3,
 0.5,0.3,0.1,0.05,0.05,0.05,0.1,0.05,0.05,0.05,0.05,0.05,
 0.05,0.05,0.05,0.05,0.05,0.05,0.05,0.05,0.05,0.05,0.05,0.05,
 0,0,0,0,0,0,0,0,0,0,0,0];
const snowRuns = [
 [0,0,0,0,0,0,0,0,0,0,0,0, 0.3,1.2,2.4,0.6,0.1,0,0.2,0.8,0.3,0,0.5,6.5, 1.8,0.4,0,0,0.3,0.9,0.2,0,0,0.4,1.3,0.5, 0,0,0.2,0.6,0.1,0,0,0.3,0.8,0.2,0,0, 0.1,0.5,0.2,0,0,0.1,0.4,0.1,0,0,0.2,0.6],
 [0,0,0,0,0,0,0,0,0,0,0,0, 2.4,2.2,1.1,0.3,3.9,1.0,0.2,0,0.4,1.6,0.3,0.9, 6.1,2.0,0.3,0,0.1,0.6,1.9,0.4,0,0,0.2,0.8, 4.6,1.2,0.2,0,0,0.3,1.0,0.3,0,0,0.1,0.4, 0.2,0,0,0.3,0.9,0.2,0,0,0.1,0.3,0,0],
 [0,0,0,0,0,0,0,0,0,0,0,0, 0,0.6,4.0,1.4,0.3,3.2,0.8,0.1,0,0.3,1.1,3.0, 0.9,5.2,1.5,0.3,0,0,0.4,1.2,3.1,0.8,0,0, 0.2,0.6,0.2,0,0,0.8,7.1,2.0,0.5,0,0,0.2, 0.6,0.1,0,0,0.3,1.1,0.3,0,0,0,0.2,0.1],
 [0,0,0,0,0,0,0,0,0,0,0,0, 0.1,0.8,3.1,0.9,0.2,0,0.6,2.2,0.7,0,0.2,4.8, 3.8,1.1,0.2,0,0.5,2.4,6.2,1.6,0.3,0,0,0.4, 1.5,3.0,0.6,0,0,0.2,0.5,0.1,0,0,0.3,0.9, 0.3,0,0,0.1,0.4,0.1,0,0,0,0.3,0.8,0.2],
 [0,0,0,0,0,0,0,0,0,0,0,0, 0,0.2,0.9,2.7,0.7,0.1,0,0.3,1.2,0.4,0,2.1, 1.0,0.3,0,0.6,1.7,0.5,0,0,0.9,3.9,1.1,0.2, 0,0.4,1.3,0.4,0,0,0.2,0.7,4.1,1.2,0.2,0, 0,0.3,0.9,0.2,8.75,1.1,0.2,0,0,0.1,0.3,0.1],
 [0,0,0,0,0,0,0,0,0,0,0,0, 0.2,2.0,0.4,0,1.1,2.5,0.5,0,0.3,0.9,1.8,4.1, 1.2,0.4,0,0,0.2,0.9,2.8,1.0,0.3,0,0,0.5, 1.8,0.5,0,0,0.3,1.1,2.4,0.7,0,0,0.2,0.8, 2.2,0.6,0,0,0.4,1.4,0.3,0,0.2,1.9,0.5,0.2],
 [0,0,0,0,0,0,0,0,0,0,0,0, 0,0.1,0.5,1.5,0.4,0,0,0.6,1.9,0.5,0.2,5.7, 2.2,0.6,0.1,0,0,0.3,0.7,0.2,0,0.4,1.6,3.3, 0.8,0.2,0,0,0,0.4,1.3,3.1,0.9,0.2,0,0, 0.3,0.9,0.3,0,0,0,0.2,0.5,0.1,0,1.5,2.0],
 [0,0,0,0,0,0,0,0,0,0,0,0, 0.1,0.4,1.8,0.5,0,0.2,0.7,0.2,0,0.1,0.4,1.2, 4.6,1.4,0.3,0,0,0.1,0.5,0.2,0,0,0.6,1.9, 0.5,0.1,0,0,0.2,3.6,1.0,0.2,0,0.5,1.7,0.5, 0.1,0,0,0.2,1.3,2.0,1.9,0.4,0,0,0.1,0.3],
 [0,0,0,0,0,0,0,0,0,0,0,0, 0,0,0.3,0.9,0.2,0,0,0,0.2,0.5,1.3,4.0, 0.8,0.2,0,0,0,0.3,1.0,0.3,0,0,0,0.1, 0.3,0.9,0.2,0,0,0,0.1,0.4,0.2,0,0,0, 0,0.1,0.3,0.1,0,0,0,0.2,0.6,0.2,0,0],
 [0,0,0,0,0,0,0,0,0,0,0,0, 0.2,0.5,0.2,0,0.4,1.4,0.4,0.1,0,0.3,0.8,2.6, 1.3,0.5,3.0,0.8,0.2,0,0,0.3,0.2,0,0.1,0.4, 0.2,0,0,0.1,0.3,0.8,0.3,0.1,0,0,0.4,1.2, 0.6,0.2,0,0,0.1,0.2,0.1,0,0,0.2,0.6,0.2]
];

// ---------- rendering ----------
const FONT = '"Liberation Sans", Arial, Helvetica, sans-serif';
function pts(arr){ return arr.map((v,i)=>[stepHours[i], v]); }
function tickLabelFor(v){ const i = tickHours.indexOf(v); return i >= 0 ? tickLabels[i] : ''; }
const hiddenSymbol = {color:'rgba(0,0,0,0)', borderColor:'rgba(0,0,0,0)', borderWidth:0, opacity:0};

function build(id, title, yMin, yMax, yInt, control, hires, median, runs, zeroLine){
  const chart = echarts.init(document.getElementById(id));
  const series = [];
  series.push({type:'line', name:'_bands', data:pts(control), symbol:'none', silent:true, z:1,
    lineStyle:{opacity:0}, animation:false,
    markArea:{silent:true, itemStyle:{color:'rgba(0,0,0,0.052)'},
      data: shadedDays.map(d=>[{xAxis:d[0]},{xAxis:Math.min(d[1],X_MAX)}])}});
  if (zeroLine){
    series.push({type:'line', name:'_zero', data:[[stepHours[0],0],[stepHours[stepHours.length-1],0]],
      symbol:'none', silent:true, z:2, animation:false, lineStyle:{color:'#a0a0a0', width:2}});
  }
  runs.forEach(r=>series.push({type:'line', name:'Verstoorde runs', data:pts(r), symbol:'none', silent:true, z:2,
    animation:false, lineStyle:{color:'#008000', width:1, opacity:0.45}, itemStyle:{color:'#008000'}}));
  series.push({type:'line', name:'Middelste (P50)', data:pts(median), symbol:'none', silent:true, z:4, animation:false,
    lineStyle:{color:'#aa3333', width:2, type:[6,4]}, itemStyle:{color:'#aa3333'}});
  series.push({type:'line', name:'Controle', data:pts(control), symbol:'none', silent:true, z:5, animation:false,
    lineStyle:{color:'#000000', width:2, type:[6,4]}, itemStyle:{color:'#000000'}});
  series.push({type:'line', name:'Hoge resolutie', data:pts(hires), symbol:'none', silent:true, z:6, animation:false,
    lineStyle:{color:'#ff0000', width:2}, itemStyle:{color:'#ff0000'}});

  const yBase = {type:'value', min:yMin, max:yMax, interval:yInt,
    axisLine:{show:false}, axisTick:{show:false}};
  chart.setOption({
    animation:false,
    textStyle:{fontFamily:FONT},
    title:[
      {text:title, left:'center', top:0, textStyle:{fontSize:18, color:'#333333', fontWeight:'normal', fontFamily:FONT}},
      {text:subtitleText, left:'center', top:31, textStyle:{fontSize:12, color:'#666666', fontWeight:'normal', fontFamily:FONT}}
    ],
    legend:{top:365, left:'center', itemWidth:16, itemHeight:14, itemGap:10,
      itemStyle:hiddenSymbol,
      textStyle:{fontSize:12, color:'#333333', fontFamily:FONT},
      data:[
        {name:legendNames[0], itemStyle:hiddenSymbol},
        {name:legendNames[1], itemStyle:hiddenSymbol},
        {name:legendNames[2], itemStyle:hiddenSymbol},
        {name:legendNames[3], itemStyle:hiddenSymbol, lineStyle:{opacity:1, width:2}}
      ]},
    graphic:[{type:'text', right:8, top:381, silent:true,
      style:{text:sourceText, fill:'#999999', fontSize:9, fontFamily:FONT}}],
    grid:{left:44, right:48, top:59, bottom:75},
    xAxis:{type:'value', min:X_MIN, max:X_MAX,
      axisLine:{show:true, onZero:false, lineStyle:{color:'#ccd6eb', width:1}},
      axisTick:{show:true, length:8, customValues:tickHours, lineStyle:{color:'#ccd6eb'}},
      axisLabel:{customValues:tickHours, formatter:tickLabelFor, align:'left', color:'#666666',
        fontSize:11, lineHeight:14, margin:8, fontFamily:FONT},
      splitLine:{show:false}},
    yAxis:[
      Object.assign({}, yBase, {position:'left',
        axisLabel:{color:'#666666', fontSize:11, margin:15, fontFamily:FONT},
        splitLine:{show:true, lineStyle:{color:'#e6e6e6', width:1}}}),
      Object.assign({}, yBase, {position:'right',
        axisLabel:{color:'#666666', fontSize:11, margin:16, fontFamily:FONT},
        splitLine:{show:false}})
    ],
    series:series
  });
}

build('c0','Temperatuur (°C)',-15,15,5,tempControl,tempHires,tempMedian,tempRuns,true);
build('c1','Windsnelheid (km/uur)',0,40,5,windControl,windHires,windMedian,windRuns,false);
build('c2','Neerslag (mm, 6 uurlijks)',0,14,2,rainControl,rainHires,rainMedian,rainRuns,false);
build('c3','Windstoten (km/uur)',0,100,20,gustControl,gustHires,gustMedian,gustRuns,false);
build('c4','Neerslagsom (mm)',0,70,10,sumControl,sumHires,sumMedian,sumRuns,false);
build('c5','Sneeuwval (cm, 6 uurlijks)',0,10,5,snowControl,snowHires,snowMedian,snowRuns,false);
</script>
</body></html>
